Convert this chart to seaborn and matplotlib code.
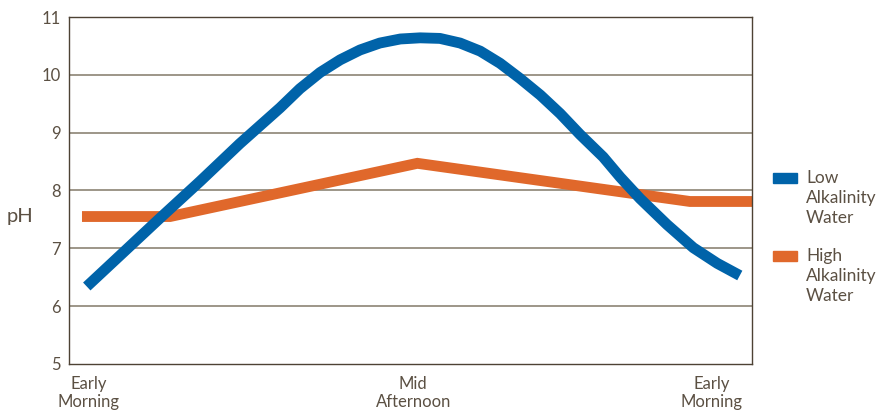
import pandas as pd
import matplotlib
matplotlib.use('Agg')
import matplotlib.pyplot as plt
from matplotlib.patches import Rectangle
import seaborn as sns

# time axis runs 0..100 (early morning -> mid afternoon -> early morning)
low_x = [2.6, 7.5, 13.3, 19.2, 25.0, 30.9, 33.8, 36.75, 39.7, 42.6, 45.5, 48.5,
         51.4, 54.3, 57.25, 60.2, 63.1, 66.0, 69.0, 71.9, 74.8, 78.2, 80.7,
         83.6, 87.55, 91.4, 94.9, 98.2]
low_ph = [6.34, 6.88, 7.52, 8.16, 8.81, 9.43, 9.76, 10.04, 10.26, 10.43, 10.55, 10.62,
          10.64, 10.63, 10.55, 10.41, 10.20, 9.94, 9.65, 9.33, 8.97, 8.58, 8.23,
          7.86, 7.41, 7.01, 6.74, 6.53]
high_x = [1.9, 14.8, 51.0, 90.9, 100]
high_ph = [7.55, 7.55, 8.47, 7.81, 7.81]

tick_pos = [2.9, 50.4, 94.1]
tick_labels = ['Early\nMorning', 'Mid\nAfternoon', 'Early\nMorning']
series_names = ['Low\nAlkalinity\nWater', 'High\nAlkalinity\nWater']
colors = ['#0063a9', '#e0682b']

txt = '#5b5043'
sns.set_style('white')
plt.rcParams['font.family'] = ['Lato', 'DejaVu Sans']

df_low = pd.DataFrame({'x': low_x, 'ph': low_ph})
df_high = pd.DataFrame({'x': high_x, 'ph': high_ph})

fig = plt.figure(figsize=(8.78, 4.11), dpi=100)
ax = fig.add_axes([0.0786, 0.1144, 0.778, 0.8442])

for y in [6, 7, 8, 9, 10]:
    ax.axhline(y, color='#8c8474', lw=1.2, zorder=0)

sns.lineplot(data=df_high, x='x', y='ph', ax=ax, color=colors[1], lw=7.8,
             solid_capstyle='butt', solid_joinstyle='miter', zorder=2)
sns.lineplot(data=df_low, x='x', y='ph', ax=ax, color=colors[0], lw=7.8,
             solid_capstyle='butt', solid_joinstyle='round', zorder=3)

ax.set_xlim(0, 100)
ax.set_ylim(5, 11)
ax.set_yticks(range(5, 12))
ax.set_xticks(tick_pos)
ax.set_xticklabels(tick_labels, fontsize=12, color=txt, linespacing=1.15)
ax.tick_params(axis='y', length=0, pad=6, labelsize=12, labelcolor=txt)
ax.tick_params(axis='x', length=0, pad=9)
for s in ax.spines.values():
    s.set_color('#4d4234')
    s.set_linewidth(1.0)

ax.set_xlabel('')
ax.set_ylabel('pH', rotation=0, fontsize=14.5, color=txt, va='center', ha='center')
ax.yaxis.set_label_coords(-0.072, 0.425)

# legend: swatch beside the first line of each label
leg_y = [178, 256]
for c, name, yc in zip(colors, series_names, leg_y):
    fig.patches.append(Rectangle((773 / 878, 1 - (yc + 5) / 411), 24 / 878, 10 / 411,
                                 transform=fig.transFigure, color=c, figure=fig))
    fig.text(806 / 878, 1 - (yc - 8) / 411, name, fontsize=12.5, color=txt,
             va='top', ha='left', linespacing=1.3)

plt.savefig('out.png', dpi=100)
